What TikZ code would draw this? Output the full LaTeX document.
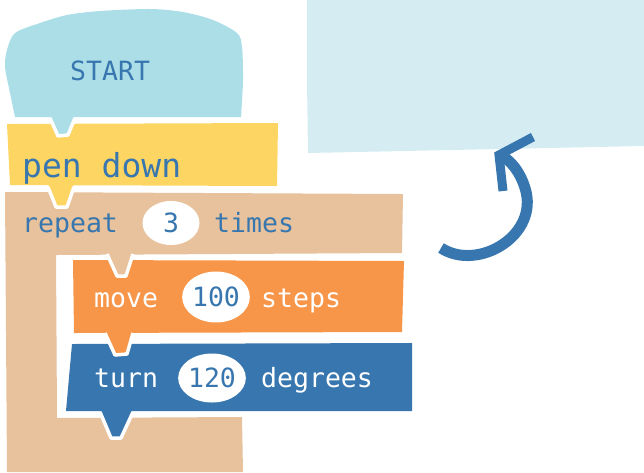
\documentclass[tikz,border=0pt]{standalone}
\usepackage{fontspec}
\setmonofont{DejaVu Sans Mono}
\usetikzlibrary{shapes.geometric}
\definecolor{startblue}{HTML}{ACDEE8}
\definecolor{penyellow}{HTML}{FDD563}
\definecolor{reptan}{HTML}{E7C29C}
\definecolor{moveorange}{HTML}{F79548}
\definecolor{dblue}{HTML}{3776AE}
\definecolor{lightbg}{HTML}{D5EDF2}
\begin{document}
\begin{tikzpicture}[x=1pt,y=-1pt,
  lbl/.style={font=\ttfamily\fontsize{26.5}{30}\selectfont, anchor=base west, inner sep=0pt},
  biglbl/.style={font=\ttfamily\fontsize{33}{36}\selectfont, anchor=base west, inner sep=0pt},
  oval/.style={ellipse, fill=white, inner sep=0pt, text=dblue, font=\ttfamily\fontsize{26.5}{30}\selectfont},
  tabedge/.style={draw=white, line width=3.5pt, line join=round}]
\useasboundingbox (0,0) rectangle (644,472);
% light blue area
\fill[lightbg] (307,0) -- (644,0) -- (644,146) -- (308,153) -- (307,80) -- cycle;
% START body
\fill[startblue] plot[smooth, tension=0.5] coordinates {(15,117) (10,93) (5,67) (7,50) (15,33) (40,23) (67,15) (100,11) (150,9) (183,12) (213,20) (237,33) (242,47) (243,80) (241,117)} -- cycle;
% pen down body
\fill[penyellow] (7,124) -- (278,123) -- (277,186) -- (10,185) -- cycle;
% repeat C body
\fill[reptan] (5,192) -- (403,194) -- (402,253) -- (56,255) -- (57,418) -- (242,417) -- (243,472) -- (7,472) -- cycle;
% move body
\fill[moveorange] (73,260) -- (404,261) -- (402,332) -- (74,333) -- cycle;
% turn body
\fill[dblue] (72,344) -- (412,343) -- (412,411) -- (66,411) -- cycle;
% tabs
\fill[startblue] (50,115) -- (58,136) -- (68,135) -- (75,115) -- cycle;
\draw[tabedge] (50,118) -- (58,136) -- (68,135) -- (75,118);
\fill[penyellow] (48,184) -- (56,207) -- (67,207) -- (74,184) -- cycle;
\draw[tabedge] (48,187) -- (56,207) -- (67,207) -- (74,187);
\fill[reptan] (107,251) -- (117,276) -- (126,276) -- (133,251) -- cycle;
\draw[tabedge] (107,254) -- (117,276) -- (126,276) -- (133,254);
\fill[moveorange] (105,330) -- (115,355) -- (127,354) -- (133,330) -- cycle;
\draw[tabedge] (105,333) -- (115,355) -- (127,354) -- (133,333);
\fill[dblue] (100,409) -- (111,438) -- (121,438) -- (133,409) -- cycle;
\draw[tabedge] (100,412) -- (111,438) -- (121,438) -- (133,412);
% texts
\node[lbl, text=dblue] (start) at (70,80) {START};
\node[biglbl, text=dblue] (pendown) at (22,177) {pen down};
\node[lbl, text=dblue] (repeat) at (22,232) {repeat};
\node[oval, minimum width=57pt, minimum height=44pt] (n3) at (171,223) {3};
\node[lbl, text=dblue] (times) at (214,232) {times};
\node[lbl, text=white] (move) at (94,307) {move};
\node[oval, minimum width=67pt, minimum height=51pt] (n100) at (216,297) {100};
\node[lbl, text=white] (steps) at (261,307) {steps};
\node[lbl, text=white] (turn) at (94,387) {turn};
\node[oval, minimum width=59pt, minimum height=49pt] (n120) at (212,378) {120};
\node[lbl, text=white] (degrees) at (261,387) {degrees};
% curved arrow
\draw[dblue, line width=11pt] (441,248) .. controls (478,272) and (540,235) .. (525,188) .. controls (520,172) and (512,162) .. (501,155);
\draw[dblue, line width=9pt, line join=miter] (503,191) -- (499,155) -- (533,137);
\end{tikzpicture}
\end{document}
